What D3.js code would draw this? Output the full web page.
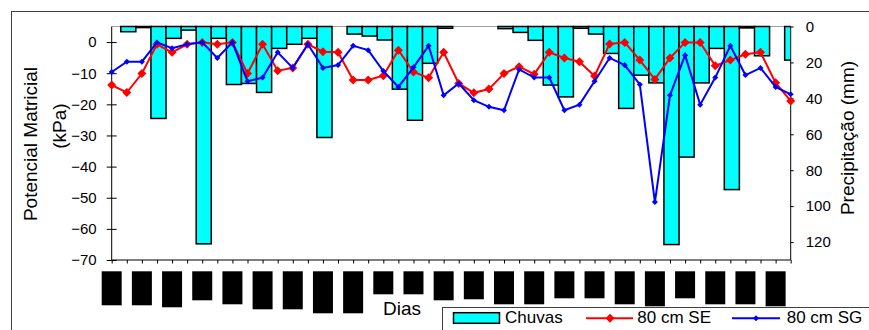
<!DOCTYPE html>
<html>
<head>
<meta charset="utf-8">
<script src="https://cdn.jsdelivr.net/npm/d3@7"></script>
<style>
  body { margin: 0; background: #fff; }
  svg { display: block; }
  text { font-family: Arial, 'Liberation Sans', sans-serif; fill: #000; }
</style>
</head>
<body>
<svg id="chart" width="869" height="330"></svg>
<script>
// Days on the category axis (one point per day).
const dias = d3.range(1, 47);

// Rain per day (mm), right axis, drawn downward from the top.
const chuvas = [0, 2.9, 0.6, 51.2, 6.6, 2.0, 121, 6.6, 32.3, 31.7, 36.7, 12.2, 9.9, 6.6, 61.8,
  0, 4.2, 5.3, 7.5, 34.9, 52.2, 20.5, 1.0, 0, 0, 0, 1.2, 3.3, 7.7, 32.6, 39.2,
  1.0, 4.2, 15.0, 45.6, 27.1, 31.4, 121.4, 72.7, 31.4, 12.2, 90.8, 0.8, 16.3, 0, 18.7];

// Matric potential at 80 cm (kPa), left axis.
const se80 = [-13.8, -16.2, -10.1, -0.7, -3.3, -0.7, -0.1, -0.7, -0.1, -10.1, -0.7, -9.2, -8.3, -0.7, -3.1,
  -3.3, -12.2, -12.2, -10.8, -2.6, -9.6, -11.5, -3.3, -13.3, -16.3, -15.1, -10.1, -7.9, -10.3, -3.3, -5.1,
  -6.3, -10.9, -0.6, -0.1, -5.8, -12.0, -5.1, -0.1, -0.1, -7.6, -5.8, -3.9, -3.3, -13.1, -18.9];
const sg80 = [-9.6, -6.3, -6.3, -0.1, -2.0, -0.7, -0.1, -5.1, -0.1, -12.6, -11.4, -3.3, -8.3, -0.7, -8.3,
  -7.4, -1.2, -2.6, -9.3, -14.4, -8.1, -1.2, -17.1, -13.3, -18.7, -20.8, -21.9, -8.8, -11.4, -11.4, -21.9,
  -20.1, -12.6, -5.1, -7.4, -13.6, -51.4, -17.1, -4.2, -20.1, -11.4, -1.2, -10.6, -8.3, -14.4, -16.8];

const leftTicks = [0, -10, -20, -30, -40, -50, -60, -70];
const rightTicks = [0, 20, 40, 60, 80, 100, 120];

// The date labels under every other day come out as solid black blocks
// in the original; these are their lengths.
const labelLen = [34, 34, 36, 29, 33, 38, 38, 42, 42, 23, 23, 29, 28, 33, 33, 27, 27, 33, 35, 27, 33, 33, 35];

const legendItems = ['Chuvas', '80 cm SE', '80 cm SG'];

const plot = { left: 111.7, right: 790.7, top: 26.5, bottom: 260 };

const svg = d3.select('#chart');

// Outer chart frame (runs off the right and bottom edges).
svg.append('rect')
  .attr('x', 11.5).attr('y', 11.5)
  .attr('width', 900).attr('height', 400)
  .attr('fill', '#fff')
  .attr('stroke', '#404040');

const x = d3.scalePoint().domain(dias).range([plot.left, plot.right]);
const step = x.step();
const yL = d3.scaleLinear().domain([-70, 5]).range([plot.bottom, plot.top]);
const yR = d3.scaleLinear().domain([0, 130]).range([plot.top, plot.bottom]);

// Plot top border.
svg.append('line')
  .attr('x1', plot.left).attr('x2', plot.right)
  .attr('y1', plot.top).attr('y2', plot.top)
  .attr('stroke', '#a0a0a0');

svg.append('clipPath').attr('id', 'plot-clip')
  .append('rect')
  .attr('x', plot.left).attr('y', plot.top - 2)
  .attr('width', plot.right - plot.left).attr('height', plot.bottom - plot.top + 2);

// Rain bars, no gap between them (sit a touch right of the points, as in the original).
svg.append('g')
  .attr('clip-path', 'url(#plot-clip)')
  .selectAll('rect')
  .data(chuvas.map((v, i) => ({ dia: dias[i], v })).filter((d) => d.v > 0))
  .join('rect')
  .attr('x', (d) => x(d.dia) - step / 2 + 1.5)
  .attr('y', yR(0))
  .attr('width', step)
  .attr('height', (d) => yR(d.v) - yR(0))
  .attr('fill', '#00ffff')
  .attr('stroke', '#000')
  .attr('stroke-width', 1.5);

// Axes.
svg.append('g')
  .attr('transform', `translate(${plot.left},0)`)
  .call(d3.axisLeft(yL).tickValues(leftTicks).tickSizeInner(5).tickSizeOuter(0).tickPadding(10))
  .call((g) => g.select('.domain').attr('d', `M0,${plot.top}V${plot.bottom}`))
  .call((g) => g.selectAll('.tick line').attr('x1', 5).attr('x2', -5))
  .call((g) => g.selectAll('text').attr('font-size', 15).style('font-family', 'Arial, Liberation Sans, sans-serif'));

svg.append('g')
  .attr('transform', `translate(${plot.right},0)`)
  .call(d3.axisRight(yR).tickValues(rightTicks).tickSizeInner(3).tickSizeOuter(0).tickPadding(12))
  .call((g) => g.select('.domain').attr('d', `M0,${plot.top}V${plot.bottom}`))
  .call((g) => g.selectAll('text').attr('font-size', 15).style('font-family', 'Arial, Liberation Sans, sans-serif'));

svg.append('g')
  .attr('transform', `translate(0,${plot.bottom})`)
  .call(d3.axisBottom(x).tickSizeInner(3.5).tickSizeOuter(0).tickFormat(''))
  .call((g) => g.select('.domain').attr('d', `M${plot.left},0H${plot.right}`));

// Label blocks under every other day.
svg.append('g')
  .selectAll('rect')
  .data(labelLen.map((len, i) => ({ dia: dias[i * 2], len })))
  .join('rect')
  .attr('x', (d) => x(d.dia) - 10)
  .attr('y', 271.3)
  .attr('width', 20)
  .attr('height', (d) => d.len)
  .attr('fill', '#000');

// Lines with markers.
const diamond = (r) => `M0,${-r}L${r},0L0,${r}L${-r},0Z`;
const line = d3.line().x((d, i) => x(dias[i])).y((d) => yL(d));

function drawSeries(values, colour, r) {
  const g = svg.append('g');
  g.append('path')
    .attr('d', line(values))
    .attr('fill', 'none')
    .attr('stroke', colour)
    .attr('stroke-width', 2);
  g.selectAll('path.marker')
    .data(values)
    .join('path')
    .attr('class', 'marker')
    .attr('transform', (d, i) => `translate(${x(dias[i])},${yL(d)})`)
    .attr('d', diamond(r))
    .attr('fill', colour);
}
drawSeries(se80, '#ff0000', 4.5);
drawSeries(sg80, '#0000ff', 3);

// Axis titles.
svg.append('text')
  .attr('transform', 'translate(36.5,144) rotate(-90)')
  .attr('text-anchor', 'middle')
  .attr('font-size', 19)
  .text('Potencial Matricial');
svg.append('text')
  .attr('transform', 'translate(66,126) rotate(-90)')
  .attr('text-anchor', 'middle')
  .attr('font-size', 19)
  .text('(kPa)');
svg.append('text')
  .attr('transform', 'translate(854,138) rotate(-90)')
  .attr('text-anchor', 'middle')
  .attr('font-size', 19)
  .text('Precipitação (mm)');
svg.append('text')
  .attr('x', 383).attr('y', 315)
  .attr('font-size', 19)
  .text('Dias');

// Legend (its box runs off the bottom-right corner).
const legend = svg.append('g');
legend.append('rect')
  .attr('x', 442.5).attr('y', 307.5)
  .attr('width', 500).attr('height', 60)
  .attr('fill', '#fff')
  .attr('stroke', '#404040');
legend.append('rect')
  .attr('x', 453.5).attr('y', 312.7)
  .attr('width', 46).attr('height', 10.6)
  .attr('fill', '#00ffff')
  .attr('stroke', '#000')
  .attr('stroke-width', 1.5);
legend.append('text').attr('x', 505).attr('y', 323.3).attr('font-size', 17).text(legendItems[0]);

[[586, 633, 610, '#ff0000', 4.5, 637.3, legendItems[1]], [732, 780, 756, '#0000ff', 3, 786.7, legendItems[2]]]
  .forEach(([x1, x2, cx, colour, r, tx, label]) => {
    legend.append('line')
      .attr('x1', x1).attr('x2', x2).attr('y1', 318.3).attr('y2', 318.3)
      .attr('stroke', colour).attr('stroke-width', 2);
    legend.append('path')
      .attr('transform', `translate(${cx},318.3)`)
      .attr('d', diamond(r))
      .attr('fill', colour);
    legend.append('text').attr('x', tx).attr('y', 323.3).attr('font-size', 17).text(label);
  });
</script>
</body>
</html>
